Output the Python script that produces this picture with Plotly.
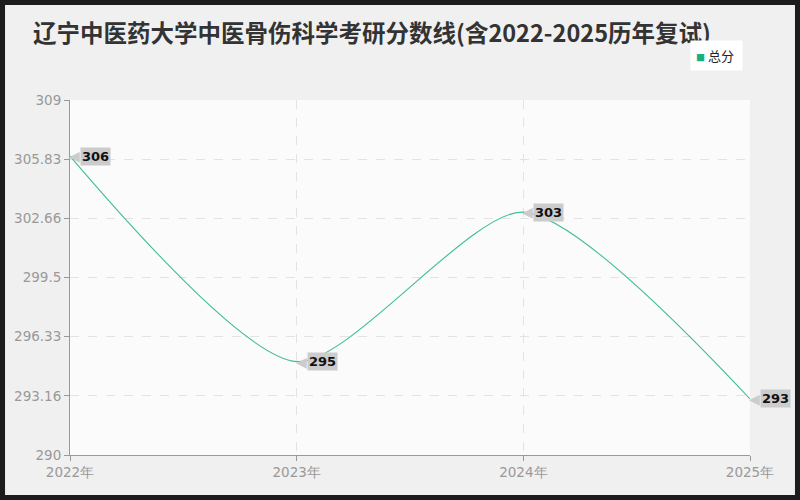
import plotly.graph_objects as go

# 数据
years = ["2022年", "2023年", "2024年", "2025年"]
scores = [306, 295, 303, 293]
ytick_vals = [290, 293.16, 296.33, 299.5, 302.66, 305.83, 309]
ytick_text = ["290", "293.16", "296.33", "299.5", "302.66", "305.83", "309"]

line_color = "#3dbf94"
label_bg = "#cccccc"

fig = go.Figure()

# 主线（平滑）
fig.add_trace(go.Scatter(
    x=years, y=scores, mode="lines", name="总分",
    line=dict(color=line_color, width=1.1, shape="spline", smoothing=0.7),
    showlegend=False, hoverinfo="x+y",
))

# 数据标签：灰色箭头框
for yr, v in zip(years, scores):
    fig.add_annotation(x=yr, y=v, text="◀", showarrow=False,
                       xanchor="left", xshift=-3, yshift=0,
                       font=dict(size=14, color=label_bg))
    fig.add_annotation(x=yr, y=v, text="<b>%d</b>" % v, showarrow=False,
                       xanchor="left", xshift=10, bgcolor=label_bg,
                       borderpad=1,
                       font=dict(size=13, color="#111", family="DejaVu Sans"))

# 图例（白色小框）
fig.add_annotation(xref="paper", yref="paper", x=0.9118, y=1.124,
                   xanchor="left", yanchor="middle", showarrow=False,
                   text="<span style='color:#1aaf7f;font-size:9px'>■</span> 总分 ",
                   bgcolor="white", borderpad=5,
                   font=dict(size=13, color="#222", family="Noto Sans CJK SC"))

# 外框
fig.add_shape(type="rect", xref="paper", yref="paper",
              x0=-0.1029, x1=1.0735, y0=-0.1268, y1=1.2817,
              line=dict(color="#1c1c1c", width=10), layer="below")

fig.update_layout(
    width=800, height=500,
    paper_bgcolor="#f0f0f0", plot_bgcolor="#fbfbfb",
    margin=dict(l=70, r=50, t=100, b=45),
    font=dict(family="DejaVu Sans", color="#999"),
    showlegend=False,
    title=dict(text="<b>辽宁中医药大学中医骨伤科学考研分数线(含2022-2025历年复试)</b>",
               x=33 / 800, xanchor="left", y=0.932, yanchor="middle",
               font=dict(size=23.5, color="#333", family="Noto Sans CJK SC")),
    xaxis=dict(range=[0, 3], showgrid=True, gridcolor="#e3e3e3", griddash="dash",
               showline=True, linecolor="#999", linewidth=1,
               ticks="outside", ticklen=5, tickcolor="#999",
               tickfont=dict(size=13.5, color="#999"), zeroline=False),
    yaxis=dict(range=[290, 309], tickvals=ytick_vals, ticktext=ytick_text,
               showgrid=True, gridcolor="#e3e3e3", griddash="dash",
               showline=True, linecolor="#999", linewidth=1,
               ticks="outside", ticklen=5, tickcolor="#999",
               tickfont=dict(size=13.5, color="#999"), zeroline=False),
)

fig.write_html("out.html", config={"displayModeBar": False},
               post_script="document.body.style.margin='0';")
